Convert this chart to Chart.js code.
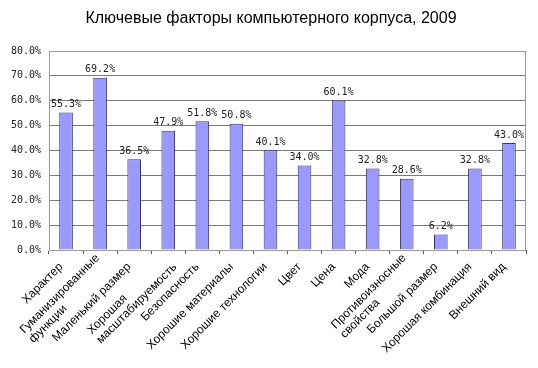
<!DOCTYPE html>
<html>
<head>
<meta charset="utf-8">
<script src="https://cdn.jsdelivr.net/npm/chart.js@4/dist/chart.umd.min.js"></script>
<style>
  html, body { margin: 0; padding: 0; background: #fff; }
  #wrap { width: 538px; height: 368px; }
</style>
</head>
<body>
<div id="wrap"><canvas id="factorChart" width="538" height="368"></canvas></div>
<script>
const chartTitle = 'Ключевые факторы компьютерного корпуса, 2009';

const categories = [
    'Характер',
    ['Гуманизированные', 'функции'],
    'Маленький размер',
    ['Хорошая', 'масштабируемость'],
    'Безопасность',
    'Хорошие материалы',
    'Хорошие технологии',
    'Цвет',
    'Цена',
    'Мода',
    ['Противоизносные', 'свойства'],
    'Большой размер',
    'Хорошая комбинация',
    'Внешний вид'
];

const shares = [55.3, 69.2, 36.5, 47.9, 51.8, 50.8, 40.1, 34.0, 60.1, 32.8, 28.6, 6.2, 32.8, 43.0];

const yTicks = [0, 10, 20, 30, 40, 50, 60, 70, 80];

// title, frame around plot area, value labels, Excel-style rotated category labels
const plotExtras = {
    id: 'plotExtras',
    beforeDatasetsDraw(chart) {
        const a = chart.chartArea;
        const ctx = chart.ctx;
        ctx.save();
        ctx.strokeStyle = '#9a9a9a';
        ctx.lineWidth = 1;
        ctx.strokeRect(a.left + 0.5, a.top + 0.5, a.right - a.left - 1, a.bottom - a.top);
        ctx.restore();
    },
    afterDatasetsDraw(chart) {
        const ctx = chart.ctx;
        const meta = chart.getDatasetMeta(0);
        ctx.save();
        ctx.font = '10px "DejaVu Sans Mono"';
        ctx.fillStyle = '#222';
        ctx.textAlign = 'center';
        ctx.textBaseline = 'bottom';
        meta.data.forEach((bar, i) => {
            ctx.fillText(shares[i].toFixed(1) + '%', bar.x, bar.y - 3);
        });
        ctx.restore();
    },
    afterDraw(chart) {
        const ctx = chart.ctx;
        const xs = chart.scales.x;
        const lineH = 13;
        ctx.save();
        ctx.font = '16px "Liberation Sans", Arial';
        ctx.fillStyle = '#000';
        ctx.textAlign = 'center';
        ctx.textBaseline = 'middle';
        ctx.fillText(chartTitle, 271, 19);

        ctx.font = '12px "Liberation Sans", Arial';
        ctx.textAlign = 'left';
        categories.forEach((label, i) => {
            const lines = Array.isArray(label) ? label : [label];
            const w = Math.max(...lines.map(l => ctx.measureText(l).width));
            const x = xs.getPixelForTick(i);
            const multi = lines.length > 1;
            ctx.save();
            ctx.translate(x - 5, xs.top + 15);
            ctx.rotate(-Math.PI / 4);
            lines.forEach((l, j) => {
                const dy = (j - (lines.length - 1) / 2) * lineH + (multi ? 2 : 0);
                ctx.fillText(l, -w + (multi ? 8 : 0), dy);
            });
            ctx.restore();
        });
        ctx.restore();
    }
};

new Chart(document.getElementById('factorChart').getContext('2d'), {
    type: 'bar',
    data: {
        labels: categories,
        datasets: [{
            data: shares,
            backgroundColor: '#9999ff',
            borderColor: '#333366',
            borderWidth: 1,
            barPercentage: 0.4,
            categoryPercentage: 1
        }]
    },
    options: {
        responsive: false,
        animation: false,
        layout: { padding: { left: 0, right: 12, top: 51, bottom: 0 } },
        plugins: {
            legend: { display: false },
            tooltip: { enabled: false },
            title: { display: false }
        },
        scales: {
            x: {
                grid: {
                    display: true,
                    drawOnChartArea: false,
                    offset: true,
                    tickLength: 4,
                    color: '#555'
                },
                border: { color: '#444' },
                ticks: { display: false },
                afterFit(scale) { scale.height = 118; }
            },
            y: {
                min: 0,
                max: 80,
                afterBuildTicks(scale) {
                    scale.ticks = yTicks.map(v => ({ value: v }));
                },
                grid: {
                    color: '#7a7a7a',
                    drawTicks: false
                },
                border: { color: '#444' },
                ticks: {
                    color: '#222',
                    padding: 8,
                    font: { family: '"DejaVu Sans Mono"', size: 10 },
                    callback: v => v.toFixed(1) + '%'
                },
                afterFit(scale) { scale.width = 49; }
            }
        }
    },
    plugins: [plotExtras]
});
</script>
</body>
</html>
